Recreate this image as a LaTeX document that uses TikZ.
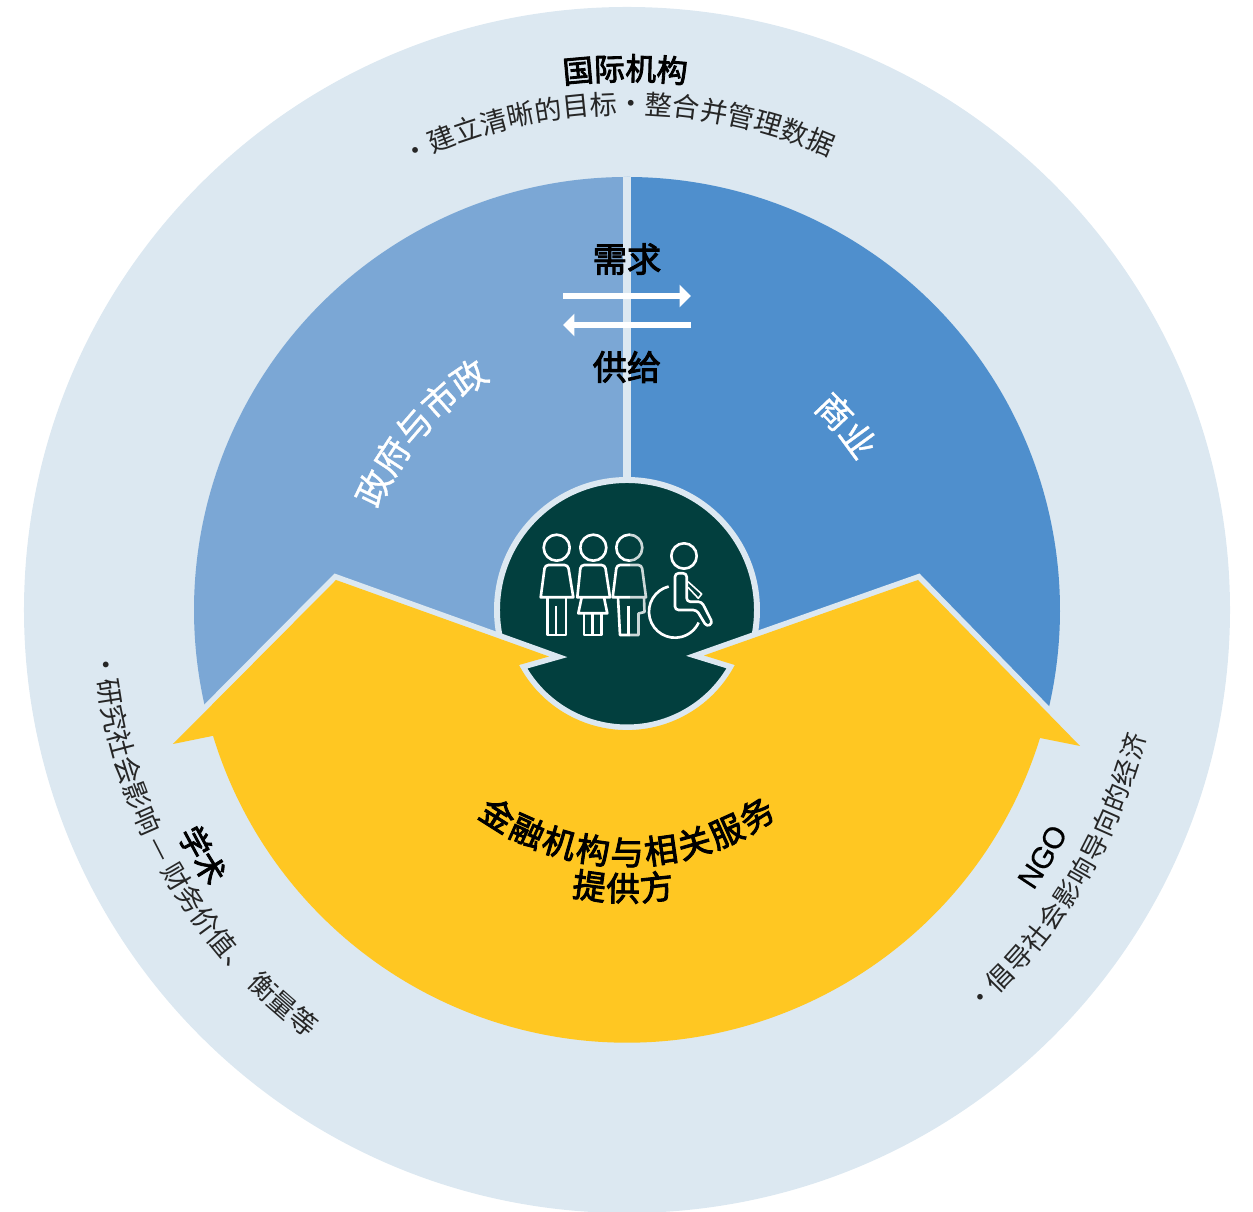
\documentclass[tikz,border=0pt]{standalone}
\usepackage{fontspec}
\setmainfont{Noto Sans CJK SC}
\newfontfamily\midfamily[RawFeature={embolden=2.8}]{Noto Sans CJK SC}
\newfontfamily\semifamily[RawFeature={embolden=1}]{Noto Sans CJK SC}
\newfontfamily\latinfont[RawFeature={embolden=0.6}]{Liberation Sans}
\usetikzlibrary{arrows.meta,decorations.text}

\definecolor{panel}{HTML}{DCE8F1}
\definecolor{govblue}{HTML}{7BA7D5}
\definecolor{bizblue}{HTML}{4F8FCD}
\definecolor{finyellow}{HTML}{FFC722}
\definecolor{coredark}{HTML}{023F3E}

\newcommand{\headfont}{\midfamily\fontsize{17.5pt}{19pt}\selectfont}
\newcommand{\subfont}{\fontsize{15.5pt}{17pt}\selectfont\color{black!85}}
\newcommand{\sectorfont}{\semifamily\fontsize{20pt}{22pt}\selectfont\color{white}}
\newcommand{\flowfont}{\midfamily\fontsize{19.5pt}{21pt}\selectfont}
\newcommand{\finfont}{\midfamily\fontsize{19pt}{21pt}\selectfont}

\tikzset{
  curved/.style={decorate,decoration={text along path,text align={fit to path},text={#1}}},
  centred/.style={decorate,decoration={text along path,text align=center,text={#1}}},
  flow/.style={white,line width=3.8pt,-{Triangle[width=12.5pt,length=6.5pt]}},
  icon/.style={white,line width=1.5pt,line join=round},
  flowlabel/.style={font=\flowfont,black,inner sep=0pt}
}

\begin{document}
\begin{tikzpicture}[x=0.02cm,y=0.02cm]
\useasboundingbox (-627,-602) rectangle (626,610);
\fill[panel] (0,0) circle (603);

% sectors
\fill[govblue] (0,0) -- (0,433) arc[start angle=90,end angle=195,radius=433] -- cycle;
\fill[bizblue] (0,0) -- (0,433) arc[start angle=90,end angle=-15,radius=433] -- cycle;
\draw[panel,line width=4pt] (0,0) -- (0,433);

\node[flowlabel] (demand) at (0,351) {需求};
\node[flowlabel] (supply) at (0,243) {供给};
\coordinate (demandA) at (-64,314);
\coordinate (demandB) at (64,314);
\coordinate (supplyA) at (64,285);
\coordinate (supplyB) at (-64,285);
\draw[flow] (demandA) -- (demandB);
\draw[flow] (supplyA) -- (supplyB);

% centre
\draw[panel,fill=coredark,line width=3.4pt] (0,0) circle (130);
\fill[finyellow,preaction={draw=panel,line width=6.4pt}]
  (-454,-134) -- (-291,30) -- (-78,-46.5) -- (-108,-55)
  arc[start angle=207.8,end angle=332.2,radius=122]
  -- (77,-45.5) -- (291,30) -- (453,-136) -- (413,-128)
  arc[start angle=-17.2,end angle=-163.1,radius=432.5] -- cycle;

% people
\begin{scope}[shift={(-627,610)},yscale=-1]
\foreach \headx in {556.7,593.3,629.3}
  \draw[icon] (\headx,547.7) circle (13);
\draw[icon] (540.7,597.3) [rounded corners=2pt] -- (545,565) -- (568,565) [sharp corners] -- (573.3,597.3) -- cycle;
\draw[icon] (547.3,597.3) -- (547.3,635) -- (566,635) -- (566,597.3);
\draw[icon] (556,606) -- (556,635);
\draw[icon] (577.3,597.3) [rounded corners=2pt] -- (580.7,565) -- (605,565) [sharp corners] -- (610,597.3) -- cycle;
\draw[icon] (581.7,597.3) -- (578.3,613.3) -- (607.3,613.3) -- (604,597.3);
\draw[icon] (584,613.3) -- (584,635) -- (601.7,635) -- (601.7,613.3);
\draw[icon] (592.7,613.3) -- (592.7,635);
\draw[icon] (612.7,597.3) [rounded corners=2pt] -- (616.7,565) -- (641.7,565) [sharp corners] -- (646,597.3) -- cycle;
\draw[icon] (644,597.3) -- (644.5,612) -- (638.5,613.5) -- (638.5,635) -- (620,635) -- (618,597.3);
\draw[icon] (628.5,606) -- (628.5,635);
\fill[coredark,opacity=0.2] (629.5,533) rectangle (647.5,637);
\draw[icon] (684,556) circle (12.7);
\draw[icon,rounded corners=2pt] (675,573.3) -- (686.7,573.3) -- (686.7,601.7) -- (701.7,601.7)
  -- (712.7,623.3) -- (706.7,626.7) -- (696.7,610) -- (675,610) -- cycle;
\draw[icon,line width=0.9pt] (688,581.7) -- (701.7,594) -- (698.3,598.3) -- (688,587.3);
\draw[icon] (668.7,586.5) arc[start angle=-104,end angle=-335.5,radius=26];
\end{scope}

% curved labels
\path[centred={|\headfont|国际机构}] (110:530) arc[start angle=110,end angle=70.4,radius=530];
\path[centred={|\subfont|•建立清晰的目标•整合并管理数据}]
  (121.1:496) arc[start angle=121.1,end angle=61.1,radius=496];
\path[centred={|\sectorfont|政府与市政}]
  (170:268) arc[start angle=170,end angle=108.6,radius=268];
\path[centred={|\sectorfont|商业}]
  (60:274) arc[start angle=60,end angle=20,radius=274];
\path[curved={|\finfont|金融机构与相关服务}]
  (234:255) arc[start angle=234,end angle=306,radius=255];
\path[curved={|\finfont|提供方}]
  (259:291) arc[start angle=259,end angle=279.4,radius=291];
\path[curved={|\subfont|•研究社会影响 — 财务价值、 衡量等}]
  (184.6:534) arc[start angle=184.6,end angle=233.3,radius=534];
\path[centred={|\headfont|学术}]
  (190:502) arc[start angle=190,end angle=230,radius=502];
\path[curved={|\subfont\fontsize{15pt}{17pt}\selectfont|•倡导社会影响导向的经济}]
  (-49:534) arc[start angle=-49,end angle=-13.7,radius=534];
\path[centred={|\latinfont\fontsize{17pt}{19pt}\selectfont|NGO}]
  (-50:494) arc[start angle=-50,end angle=-11.4,radius=494];
\end{tikzpicture}
\end{document}
